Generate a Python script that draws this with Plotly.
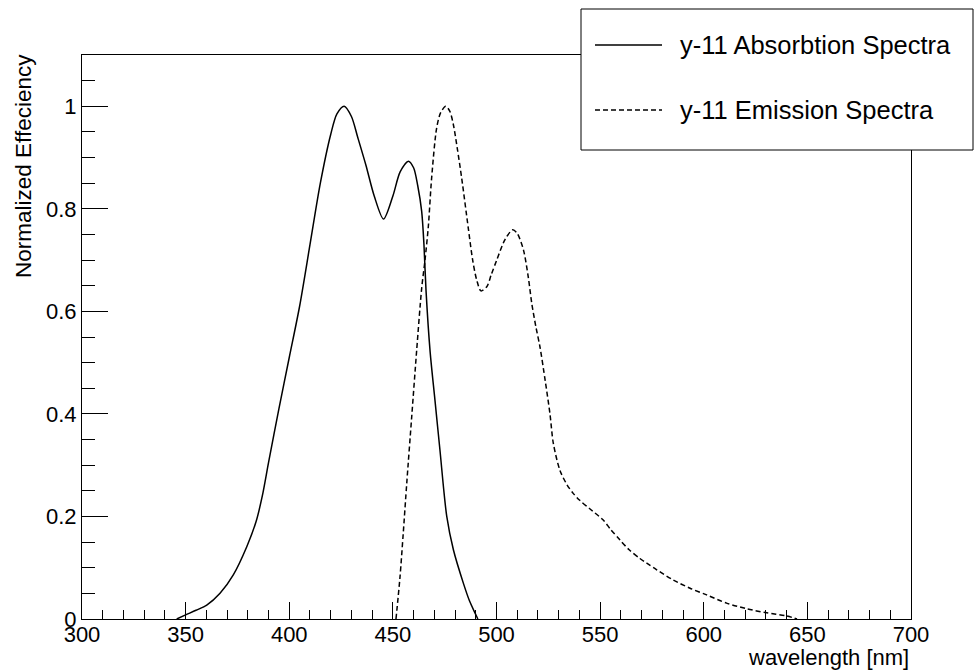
import plotly.graph_objects as go

# ---- data ----
series_names = ["y-11 Absorbtion Spectra", "y-11 Emission Spectra"]

abs_wl = [345.7, 350, 355, 360.2, 366.6, 373, 379.5, 384, 387, 390, 395, 400,
          405, 410, 415, 420, 423, 426.5, 430, 433, 437, 441, 445.5, 450, 453.5,
          457.5, 460, 462, 463.9, 465, 466, 468, 470.3, 472.7, 476, 479.2, 484,
          487, 489.6, 491]
abs_eff = [0.0, 0.008, 0.017, 0.027, 0.05, 0.086, 0.141, 0.19, 0.24, 0.305, 0.41, 0.51,
           0.61, 0.73, 0.85, 0.945, 0.985, 1.0, 0.98, 0.94, 0.885, 0.825, 0.78, 0.825, 0.872,
           0.893, 0.88, 0.845, 0.795, 0.73, 0.64, 0.52, 0.427, 0.33, 0.2, 0.135, 0.07,
           0.035, 0.012, 0.0]

em_wl = [451.5, 453.4, 455, 456.7, 459.1, 461.5, 463.9, 465.5, 467.1, 468.7, 471.1, 473,
         475.5, 477.5, 479.2, 481, 483.2, 486.4, 488.5, 490.4, 492.5, 495.3, 497.5, 500.1,
         504.1, 507.8, 510, 513, 515.4, 517, 519, 521, 523.5, 525.8, 527.4, 530.6, 534,
         537, 540, 545, 551.5, 555, 559.6, 564, 569.2, 572.5, 577.3, 585.3, 593.4, 601.4,
         611, 620.7, 630.4, 640, 645]
em_eff = [0.0, 0.08, 0.167, 0.265, 0.395, 0.525, 0.645, 0.70, 0.765, 0.86, 0.957, 0.987,
          1.0, 0.99, 0.964, 0.92, 0.86, 0.762, 0.70, 0.662, 0.64, 0.648, 0.672, 0.70,
          0.74, 0.759, 0.752, 0.72, 0.665, 0.616, 0.57, 0.53, 0.465, 0.40, 0.343, 0.29, 0.262,
          0.245, 0.232, 0.215, 0.193, 0.175, 0.154, 0.135, 0.118, 0.109, 0.096, 0.076, 0.06, 0.047,
          0.031, 0.02, 0.012, 0.006, 0.0]

FONT = "Liberation Sans, Arial, Helvetica, sans-serif"
W, H = 974, 671
L, R, T, B = 82, 63, 55, 52

fig = go.Figure()
fig.add_trace(go.Scatter(x=abs_wl, y=abs_eff, mode="lines", name=series_names[0],
                         line=dict(color="black", width=1.5, shape="spline", smoothing=0.8)))
fig.add_trace(go.Scatter(x=em_wl, y=em_eff, mode="lines", name=series_names[1],
                         line=dict(color="black", width=1.5, dash="5px,3px",
                                   shape="spline", smoothing=0.8)))

axis_common = dict(showgrid=False, zeroline=False, showline=True, mirror=True,
                   linecolor="black", linewidth=1, ticks="inside", tickcolor="black",
                   tickwidth=1, tickfont=dict(family=FONT, size=22, color="black"))

fig.update_xaxes(range=[300, 700], tick0=300, dtick=50, ticklen=17,
                 ticklabelstandoff=-4,
                 minor=dict(ticks="inside", ticklen=9, dtick=10, tick0=300,
                            tickcolor="black", tickwidth=1, showgrid=False),
                 **axis_common)
fig.update_yaxes(range=[0, 1.1], tick0=0, dtick=0.2, ticklen=26,
                 minor=dict(ticks="inside", ticklen=13, dtick=0.05, tick0=0,
                            tickcolor="black", tickwidth=1, showgrid=False),
                 **axis_common)

pw = W - L - R
ph = H - T - B
def px(xp):
    return (xp - L) / pw
def py(yp):
    return (H - B - yp) / ph

# legend box (custom, ROOT style)
fig.add_shape(type="rect", xref="paper", yref="paper",
              x0=px(581), x1=px(973), y0=py(150), y1=py(9),
              line=dict(color="black", width=1), fillcolor="white", layer="above")
fig.add_shape(type="line", xref="paper", yref="paper",
              x0=px(595), x1=px(662), y0=py(45), y1=py(45),
              line=dict(color="black", width=1.3), layer="above")
fig.add_shape(type="line", xref="paper", yref="paper",
              x0=px(595), x1=px(662), y0=py(110), y1=py(110),
              line=dict(color="black", width=1.3, dash="5px,3px"), layer="above")
for name, yy in zip(series_names, [45, 110]):
    fig.add_annotation(text=name, xref="paper", yref="paper", x=px(678), y=py(yy),
                       xanchor="left", yanchor="middle", showarrow=False,
                       font=dict(family=FONT, size=25.5, color="black"))

# axis titles
fig.add_annotation(text="wavelength [nm]", xref="paper", yref="paper",
                   x=1.0, y=py(657), xanchor="right", yanchor="middle", showarrow=False,
                   font=dict(family=FONT, size=22, color="black"))
fig.add_annotation(text="Normalized Effeciency", xref="paper", yref="paper",
                   x=px(23), y=py(166), xanchor="center", yanchor="middle",
                   textangle=-90, showarrow=False,
                   font=dict(family=FONT, size=22.5, color="black"))

fig.update_layout(width=W, height=H, margin=dict(l=L, r=R, t=T, b=B),
                  plot_bgcolor="white", paper_bgcolor="white", showlegend=False,
                  font=dict(family=FONT, color="black"))

fig.write_html("out.html")
